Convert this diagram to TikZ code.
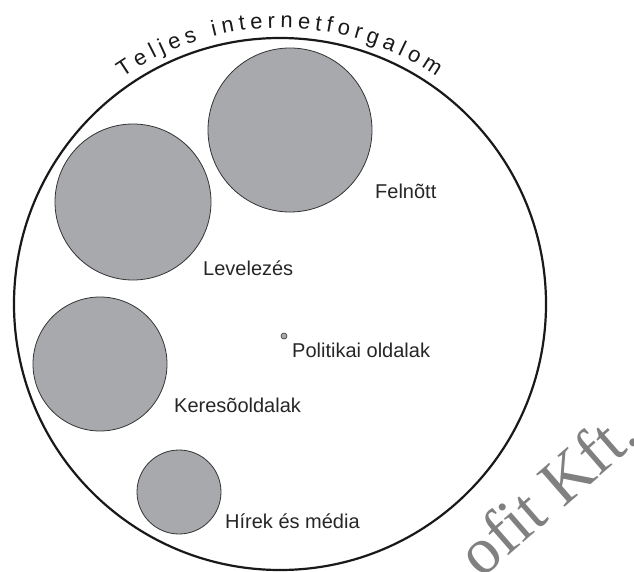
\documentclass[tikz,border=0pt]{standalone}
\usepackage{fontspec}
\setmainfont{Liberation Sans}
\newfontfamily\markfont{Liberation Serif}
\definecolor{bubblegray}{RGB}{167,169,172}

\begin{document}
\begin{tikzpicture}[x=1pt,y=-1pt]
\tikzset{
  bigring/.style={draw=black!90,line width=2.2pt},
  bubble/.style={fill=bubblegray,draw=black!80,line width=0.8pt},
  lbl/.style={anchor=base west,inner sep=0pt,text=black!85,font=\fontsize{20}{24}\selectfont},
  titlechar/.style={anchor=base,inner sep=0pt,text=black!90,font=\fontsize{22}{26}\selectfont},
}
\useasboundingbox (0,0) rectangle (634,572);
% the whole traffic
\draw [bigring] (280,304) circle (266);
\coordinate (mid) at (280,304);
% title, letter by letter round the ring
\def\trk{5.0}
\xdef\cum{0}
\foreach \ch/\w in {T/.611,e/.556,l/.222,j/.222,e/.556,s/.5,{}/.278,i/.222,n/.556,t/.278,e/.556,r/.333,n/.556,e/.556,t/.278,f/.278,o/.556,r/.333,g/.556,a/.556,l/.222,o/.556,m/.833}{
  \pgfmathsetmacro\ang{235.27+(\cum+\w*11)/276*57.2958}
  \node [titlechar,rotate=-\ang-90] at ([shift={(\ang:276)}]mid) {\ch};
  \pgfmathsetmacro\nxt{\cum+\w*22+\trk}
  \xdef\cum{\nxt}
}
% bubbles
\draw [bubble] (290,130) circle (82);
\draw [bubble] (133,202) circle (78);
\draw [bubble] (100,364) circle (67);
\draw [bubble] (179,492) circle (42);
\draw [bubble,line width=0.6pt] (284,336) circle (3);
% labels
\node [lbl] (felnott) at (375,198) {Felnõtt};
\node [lbl] (levelezes) at (203,275) {Levelezés};
\node [lbl] (kereso) at (174,412) {Keresõoldalak};
\node [lbl] (politika) at (292,357) {Politikai oldalak};
\node [lbl] (hirek) at (225,528) {Hírek és média};
% watermark
\node [anchor=base east,inner sep=0pt,rotate=41,text=black!50,
  font=\markfont\fontsize{66}{70}\selectfont] (mark) at (642,440) {ofit Kft.};
\end{tikzpicture}
\end{document}
